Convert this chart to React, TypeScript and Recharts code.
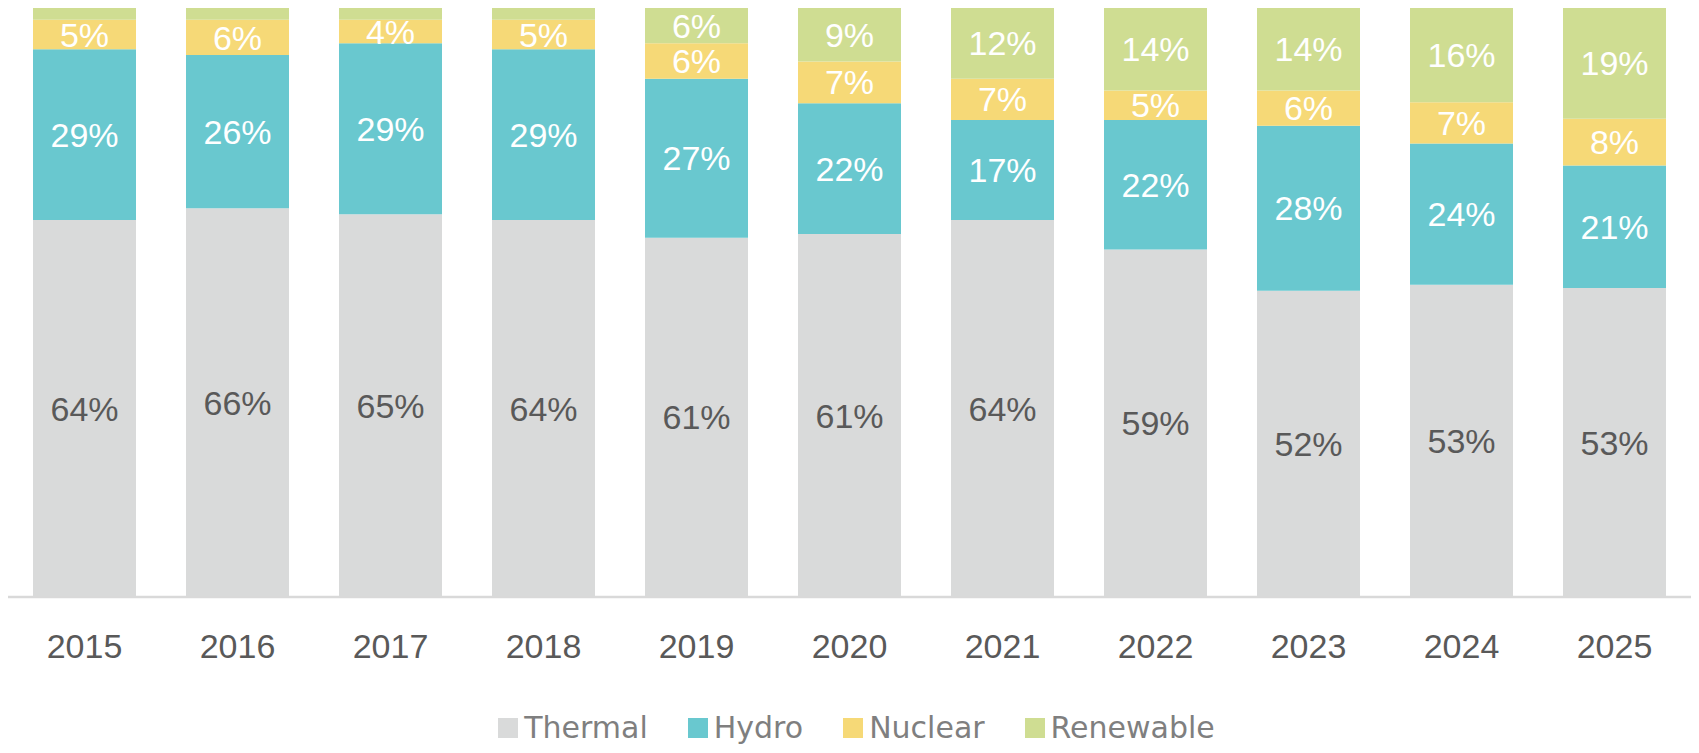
import { BarChart, Bar, XAxis, YAxis, Legend, LabelList } from 'recharts';

const years = ['2015', '2016', '2017', '2018', '2019', '2020', '2021', '2022', '2023', '2024', '2025'];
const thermal = [64, 66, 65, 64, 61, 61, 64, 59, 52, 53, 53];
const hydro = [29, 26, 29, 29, 27, 22, 17, 22, 28, 24, 21];
const nuclear = [5, 6, 4, 5, 6, 7, 7, 5, 6, 7, 8];
const renewable = [2, 2, 2, 2, 6, 9, 12, 14, 14, 16, 19];

const data = years.map((year, i) => ({
  year,
  Thermal: thermal[i],
  Hydro: hydro[i],
  Nuclear: nuclear[i],
  Renewable: renewable[i],
}));

const series = [
  { key: 'Thermal', color: '#d9dada', label: '#595959' },
  { key: 'Hydro', color: '#69c8cf', label: '#ffffff' },
  { key: 'Nuclear', color: '#f6d977', label: '#ffffff' },
  { key: 'Renewable', color: '#cfdd92', label: '#ffffff' },
];

// small shares (the 2% renewables) carry no label in the original
const pct = (v: any) => (Number(v) >= 3 ? `${v}%` : '');

// legend keeps the stacking order (recharts would sort it by name)
const renderLegend = () => (
  <div
    style={{
      display: 'flex',
      justifyContent: 'center',
      alignItems: 'center',
      gap: 40,
      fontFamily: '"DejaVu Sans", sans-serif',
      fontSize: 30,
      lineHeight: '30px',
      color: '#7f7f7f',
      paddingLeft: 14,
    }}
  >
    {series.map((s) => (
      <div key={s.key} style={{ display: 'flex', alignItems: 'center', gap: 6 }}>
        <span style={{ display: 'inline-block', width: 20, height: 20, background: s.color }} />
        <span>{s.key}</span>
      </div>
    ))}
  </div>
);

export default function App() {
  return (
    <div style={{ width: 1683, height: 737, fontFamily: '"Liberation Sans", Arial, sans-serif' }}>
      <BarChart
        width={1683}
        height={737}
        data={data}
        stackOffset="expand"
        margin={{ top: 0, right: 0, left: 0, bottom: 88 }}
      >
        <XAxis
          dataKey="year"
          height={60}
          axisLine={{ stroke: '#d9d9d9', strokeWidth: 2.5 }}
          tickLine={false}
          tickSize={0}
          tickMargin={37}
          tick={{ fill: '#595959', fontSize: 34 }}
        />
        <YAxis hide />
        <Legend
          verticalAlign="middle"
          layout="horizontal"
          align="center"
          content={renderLegend}
          wrapperStyle={{ top: 705, left: 0, width: 1683 }}
        />
        {series.map((s) => (
          <Bar key={s.key} dataKey={s.key} stackId="a" fill={s.color} barSize={103} isAnimationActive={false}>
            <LabelList dataKey={s.key} position="center" formatter={pct} fill={s.label} fontSize={34} />
          </Bar>
        ))}
      </BarChart>
    </div>
  );
}
